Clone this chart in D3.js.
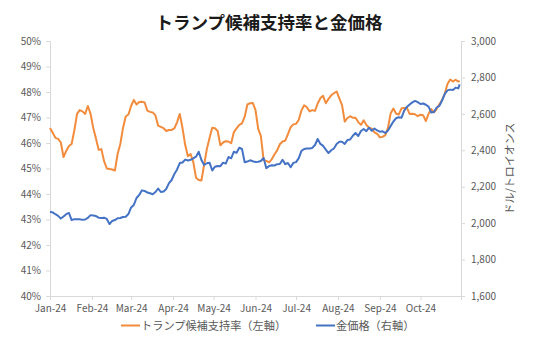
<!DOCTYPE html>
<html><head><meta charset="utf-8">
<script src="https://cdn.jsdelivr.net/npm/d3@7"></script>
<style>
html,body{margin:0;padding:0;background:#fff;}
text{font-family:"Noto Sans CJK JP","Noto Sans",sans-serif;}
</style></head>
<body><svg id="c" width="542" height="347"></svg>
<script>
const title = "トランプ候補支持率と金価格";
const seriesNames = ["トランプ候補支持率（左軸）", "金価格（右軸）"];
const rightAxisTitle = "ドル/トロイオンス";
const monthTicks = ["01-01","02-01","03-01","04-01","05-01","06-01","07-01","08-01","09-01","10-01"];
const leftTicks = [40,41,42,43,44,45,46,47,48,49,50];
const rightTicks = [1600,1800,2000,2200,2400,2600,2800,3000];

const dates = [
"01-01","01-03","01-05","01-07","01-09","01-11","01-13","01-15","01-17","01-19","01-21","01-23","01-25","01-27","01-29","01-31",
"02-02","02-04","02-06","02-08","02-10","02-12","02-14","02-16","02-18","02-20","02-22","02-24","02-26","02-28",
"03-01","03-03","03-05","03-07","03-09","03-11","03-13","03-15","03-17","03-19","03-21","03-23","03-25","03-27","03-29","03-31",
"04-02","04-04","04-06","04-08","04-10","04-12","04-14","04-16","04-18","04-20","04-22","04-24","04-26","04-28","04-30",
"05-02","05-04","05-06","05-08","05-10","05-12","05-14","05-16","05-18","05-20","05-22","05-24","05-26","05-28","05-30",
"06-01","06-03","06-05","06-07","06-09","06-11","06-13","06-15","06-17","06-19","06-21","06-23","06-25","06-27","06-29",
"07-01","07-03","07-05","07-07","07-09","07-11","07-13","07-15","07-17","07-19","07-21","07-23","07-25","07-27","07-29","07-31",
"08-02","08-04","08-06","08-08","08-10","08-12","08-14","08-16","08-18","08-20","08-22","08-24","08-26","08-28","08-30",
"09-01","09-03","09-05","09-07","09-09","09-11","09-13","09-15","09-17","09-19","09-21","09-23","09-25","09-27","09-29",
"10-01","10-03","10-05","10-07","10-09","10-11","10-13","10-15","10-17","10-19","10-21","10-23","10-25","10-27","10-29","10-30"
];

const trumpSupport = [
46.59,46.40,46.20,46.16,46.02,45.45,45.69,45.88,45.96,46.50,47.14,47.29,47.24,47.14,47.45,47.14,
46.59,46.18,45.73,45.76,45.29,45.00,44.98,44.96,44.92,45.57,45.96,46.59,47.04,47.12,
47.45,47.69,47.51,47.61,47.62,47.59,47.27,47.22,47.20,47.08,46.68,46.63,46.58,46.47,46.51,46.51,
46.57,46.82,47.14,46.59,45.92,45.48,45.57,45.25,44.64,44.55,44.53,45.14,45.76,46.20,46.60,
46.58,46.47,45.91,46.02,46.07,46.06,45.99,46.43,46.57,46.71,46.77,47.03,47.51,47.56,47.57,
47.29,46.55,46.27,45.33,45.30,45.24,45.36,45.55,45.71,45.95,46.06,46.09,46.35,46.62,46.73,
46.75,46.91,47.28,47.48,47.40,47.24,47.29,47.26,47.55,47.76,47.85,47.56,47.73,47.87,47.95,48.02,
47.75,47.49,46.84,46.98,47.05,46.99,46.99,46.82,46.71,46.89,46.71,46.60,46.56,46.42,46.36,
46.22,46.24,46.31,46.60,47.17,47.35,47.15,47.12,47.36,47.37,47.38,47.14,47.15,47.13,47.05,
47.11,47.09,46.86,47.14,47.33,47.20,47.34,47.52,47.69,47.93,48.31,48.49,48.41,48.48,48.41,48.44
];

const goldPrice = [
2062,2059,2049,2040,2025,2037,2049,2056,2017,2022,2022,2021,2018,2020,2029,2044,
2042,2039,2030,2028,2030,2023,1995,2012,2017,2027,2028,2034,2035,2050,
2086,2100,2138,2155,2180,2177,2168,2164,2159,2171,2190,2171,2174,2188,2220,2237,
2270,2295,2330,2333,2349,2344,2348,2356,2365,2392,2347,2319,2329,2332,2289,
2310,2314,2313,2332,2327,2363,2356,2392,2386,2414,2407,2334,2338,2345,2340,
2336,2337,2341,2358,2301,2313,2318,2316,2324,2325,2348,2324,2330,2307,2331,
2335,2357,2397,2407,2410,2410,2413,2429,2462,2435,2424,2404,2385,2400,2410,2435,
2447,2447,2435,2456,2459,2480,2495,2478,2506,2517,2505,2524,2507,2520,2509,
2502,2504,2495,2509,2534,2558,2576,2581,2579,2618,2638,2651,2663,2671,2664,
2654,2657,2650,2640,2607,2610,2635,2644,2673,2710,2729,2733,2731,2744,2740,2762
];

const parse = d3.timeParse("%Y-%m-%d");
const pd = s => parse("2024-" + s);

const svg = d3.select("#c");
const L = 50, R = 461, T = 41, B = 296;
const axisColor = "#d9d9d9", labelColor = "#595959";
const orange = "#F28C3C", blue = "#4472C4";

const x = d3.scaleTime().domain([pd("01-01"), pd("10-31")]).range([L, R]);
const yL = d3.scaleLinear().domain([40, 50]).range([B, T]);
const yR = d3.scaleLinear().domain([1600, 3000]).range([B, T]);

// title
svg.append("text").attr("x", 269).attr("y", 29).attr("text-anchor", "middle")
  .attr("font-size", 17.5).attr("font-weight", "bold").attr("fill", "#1a1a1a").text(title);

// left axis
const gl = svg.append("g").attr("transform", `translate(${L},0)`)
  .call(d3.axisLeft(yL).tickValues(leftTicks).tickFormat(d => d + "%").tickSizeOuter(0).tickSize(4).tickPadding(5));
// right axis
const gr = svg.append("g").attr("transform", `translate(${R},0)`)
  .call(d3.axisRight(yR).tickValues(rightTicks).tickFormat(d3.format(",")).tickSizeOuter(0).tickSize(4).tickPadding(6));
// bottom axis
const gb = svg.append("g").attr("transform", `translate(0,${B})`)
  .call(d3.axisBottom(x).tickValues(monthTicks.map(pd)).tickFormat(d3.timeFormat("%b-%y")).tickSizeOuter(0).tickSize(4).tickPadding(5));

[gl, gr, gb].forEach(g => {
  g.selectAll(".domain").attr("stroke", axisColor).attr("stroke-width", 1);
  g.selectAll(".tick line").attr("stroke", axisColor);
  g.selectAll(".tick text").attr("fill", labelColor).attr("font-size", 10)
    .attr("font-family", "'Noto Sans CJK JP','Noto Sans',sans-serif");
});

// right axis title
svg.append("text").attr("transform", `translate(514,${(T + B) / 2}) rotate(-90)`)
  .attr("text-anchor", "middle").attr("font-size", 11).attr("fill", labelColor).text(rightAxisTitle);

// lines
const lineL = d3.line().x((d, i) => x(pd(dates[i]))).y(d => yL(d));
const lineR = d3.line().x((d, i) => x(pd(dates[i]))).y(d => yR(d));

svg.append("path").datum(trumpSupport).attr("d", lineL)
  .attr("fill", "none").attr("stroke", orange).attr("stroke-width", 2).attr("stroke-linejoin", "round");
svg.append("path").datum(goldPrice).attr("d", lineR)
  .attr("fill", "none").attr("stroke", blue).attr("stroke-width", 2).attr("stroke-linejoin", "round");

// legend
const legend = [
  {name: seriesNames[0], color: orange, x0: 121},
  {name: seriesNames[1], color: blue, x0: 316}
];
const lg = svg.append("g");
legend.forEach(l => {
  lg.append("line").attr("x1", l.x0).attr("x2", l.x0 + 19).attr("y1", 325.5).attr("y2", 325.5)
    .attr("stroke", l.color).attr("stroke-width", 2);
  lg.append("text").attr("x", l.x0 + 20).attr("y", 329.5).attr("font-size", 11.2)
    .attr("fill", labelColor).text(l.name);
});
</script>
</body></html>
